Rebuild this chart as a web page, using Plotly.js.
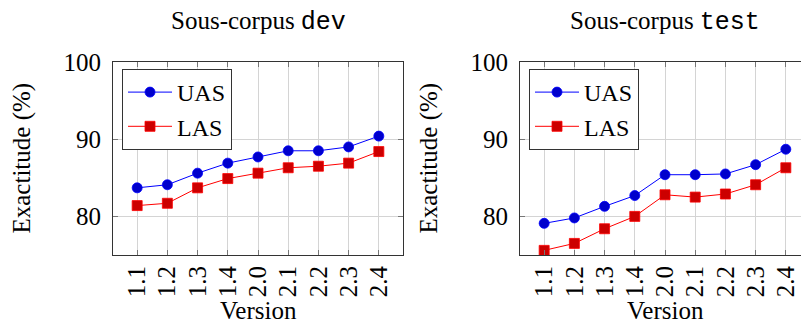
<!DOCTYPE html>
<html>
<head>
<meta charset="utf-8">
<script src="https://cdn.plot.ly/plotly-3.0.1.min.js"></script>
<style>
html,body{margin:0;padding:0;overflow:hidden;background:#fff;width:801px;height:323px;}
#chart{width:815px;height:323px;}
</style>
</head>
<body>
<div id="chart"></div>
<script>
const versions = ["1.1","1.2","1.3","1.4","2.0","2.1","2.2","2.3","2.4"];
const devUAS  = [83.7, 84.1, 85.6, 86.9, 87.7, 88.5, 88.5, 89.0, 90.4];
const devLAS  = [81.4, 81.7, 83.7, 84.9, 85.6, 86.3, 86.5, 86.9, 88.4];
const testUAS = [79.1, 79.8, 81.3, 82.7, 85.4, 85.4, 85.5, 86.7, 88.7];
const testLAS = [75.6, 76.5, 78.4, 80.0, 82.8, 82.5, 82.9, 84.1, 86.3];
const yTicks = [80, 90, 100];

const serif = "Liberation Serif";
const mono = "Liberation Mono";
const W = 815, H = 323;
const FS = 25;
const idx = versions.map((v,i)=>i);

function uas(y, xa, ya, leg){
  return {x: idx, y: y, xaxis: xa, yaxis: ya, legend: leg, name: "UAS", type: "scatter", mode: "lines+markers",
    line: {color: "#0000ff", width: 1},
    marker: {symbol: "circle", size: 10, color: "#0000cc", line: {color: "#0000ff", width: 0.8}}};
}
function las(y, xa, ya, leg){
  return {x: idx, y: y, xaxis: xa, yaxis: ya, legend: leg, name: "LAS", type: "scatter", mode: "lines+markers",
    line: {color: "#ff0000", width: 1},
    marker: {symbol: "square", size: 10, color: "#cc0000", line: {color: "#ff0000", width: 0.8}}};
}

const data = [
  uas(devUAS, "x", "y", "legend"),
  las(devLAS, "x", "y", "legend"),
  uas(testUAS, "x2", "y2", "legend2"),
  las(testLAS, "x2", "y2", "legend2")
];

function xax(dom, anchor){
  return {domain: dom, anchor: anchor, range: [-0.8, 8.8], tickmode: "array", tickvals: idx, ticktext: versions,
    tickangle: -90, ticks: "inside", ticklen: 5, tickcolor: "#777", showgrid: true, gridcolor: "#d4d4d4", gridwidth: 1,
    showline: true, linecolor: "#333", linewidth: 1, mirror: "ticks", zeroline: false,
    tickfont: {family: serif, size: FS, color: "#000"}, fixedrange: true};
}
function yax(anchor){
  return {anchor: anchor, domain: [0,1], range: [75, 100], tickmode: "array", tickvals: yTicks, ticktext: yTicks.map(String),
    ticks: "inside", ticklen: 5, tickcolor: "#777", showgrid: true, gridcolor: "#d4d4d4", gridwidth: 1,
    showline: true, linecolor: "#333", linewidth: 1, mirror: "ticks", zeroline: false, ticklabelstandoff: 6,
    tickfont: {family: serif, size: FS, color: "#000"}, fixedrange: true};
}

const mt = 62, mb = 68, ph = H - mt - mb;
const legY = (H - mb - 69) / ph;

const ann = [];
function titles(cx, ytx, word){
  ann.push({xref: "paper", yref: "paper", x: cx / W, y: 1, yshift: 40, xanchor: "center", yanchor: "middle", showarrow: false,
    text: "Sous-corpus <span style=\"font-family:" + mono + "\">" + word + "</span>",
    font: {family: serif, size: FS, color: "#000"}});
  ann.push({xref: "paper", yref: "paper", x: cx / W, y: 0, yshift: -55, xanchor: "center", yanchor: "middle", showarrow: false,
    text: "Version", font: {family: serif, size: FS, color: "#000"}});
  ann.push({xref: "paper", yref: "paper", x: ytx / W, y: 0.5, xanchor: "center", yanchor: "middle", showarrow: false, textangle: -90,
    text: "Exactitude (%)", font: {family: serif, size: FS, color: "#000"}});
}
titles(258, 21, "dev");
titles(665, 428, "test");

function leg(x){
  return {x: x / W, y: legY, xanchor: "left", yanchor: "top", bgcolor: "#fff", bordercolor: "#333", borderwidth: 1,
    font: {family: serif, size: 24, color: "#000"}, itemwidth: 44, traceorder: "normal"};
}

const layout = {
  width: W, height: H,
  margin: {l: 0, r: 0, t: mt, b: mb},
  paper_bgcolor: "#fff", plot_bgcolor: "#fff",
  showlegend: true,
  xaxis: xax([113 / W, 403 / W], "y"),
  yaxis: yax("x"),
  xaxis2: xax([520 / W, 810 / W], "y2"),
  yaxis2: yax("x2"),
  legend: leg(122),
  legend2: leg(529),
  annotations: ann
};

Plotly.newPlot("chart", data, layout, {displayModeBar: false, staticPlot: true});
</script>
</body>
</html>
